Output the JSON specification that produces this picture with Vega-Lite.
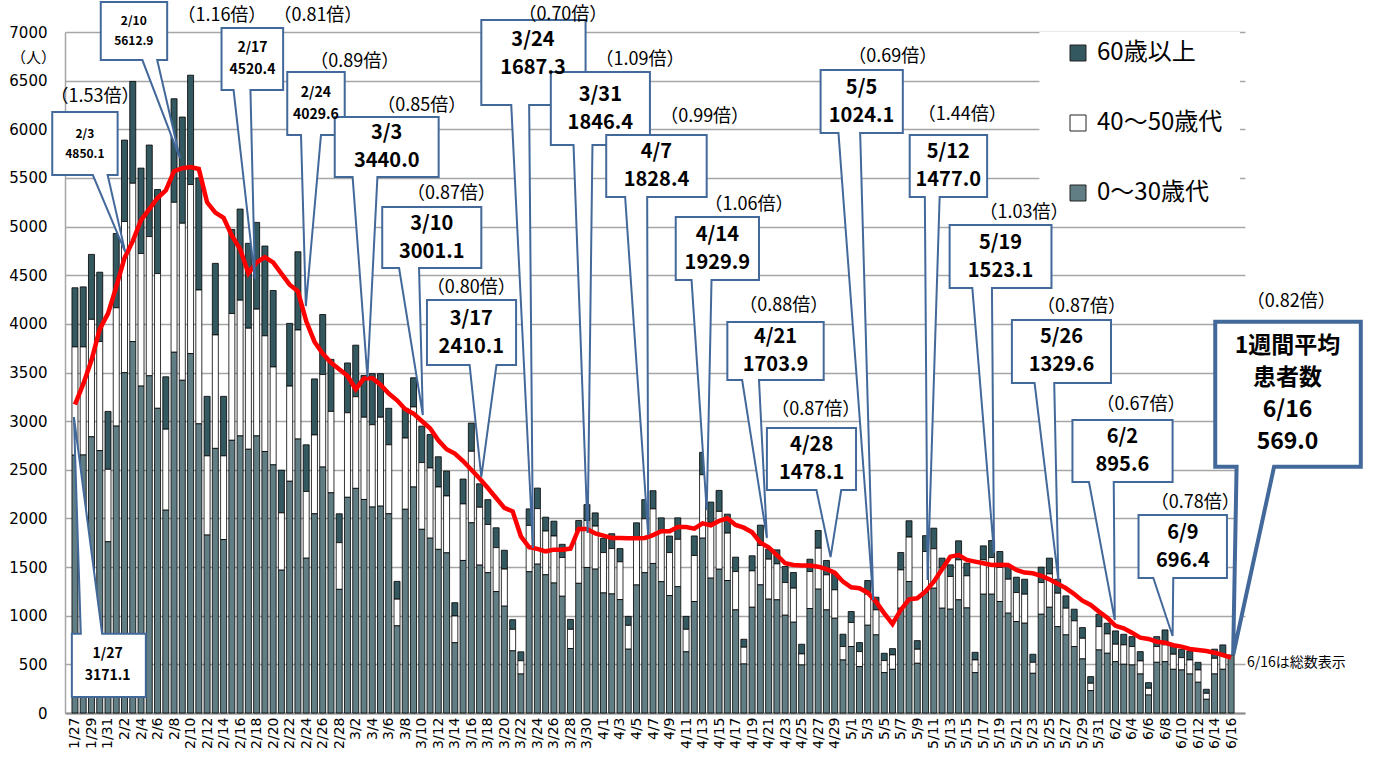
{
"$schema": "https://vega.github.io/schema/vega-lite/v6.json",
"width": 1180, "height": 681,
"autosize": {"type": "none"},
"padding": {"left": 65, "top": 32, "right": 132, "bottom": 52},
"background": "white",
"config": {"view": {"stroke": null}, "font": "DejaVu Sans"},
"datasets": {
"days": [
{"date":"2022-01-27","0〜30歳代":2650,"40〜50歳代":1113,"60歳以上":608,"avg":3171.1},
{"date":"2022-01-28","0〜30歳代":2652,"40〜50歳代":1111,"60歳以上":617,"avg":3380},
{"date":"2022-01-29","0〜30歳代":2839,"40〜50歳代":1207,"60歳以上":668,"avg":3626},
{"date":"2022-01-30","0〜30歳代":2697,"40〜50歳代":1121,"60歳以上":713,"avg":3946},
{"date":"2022-01-31","0〜30歳代":1760,"40〜50歳代":745,"60歳以上":595,"avg":4106},
{"date":"2022-02-01","0〜30歳代":2949,"40〜50歳代":1216,"60歳以上":764,"avg":4380},
{"date":"2022-02-02","0〜30歳代":3498,"40〜50歳代":1554,"60歳以上":837,"avg":4677},
{"date":"2022-02-03","0〜30歳代":3818,"40〜50歳代":1627,"60歳以上":1047,"avg":4850.1},
{"date":"2022-02-04","0〜30歳代":3360,"40〜50歳代":1363,"60歳以上":878,"avg":5066},
{"date":"2022-02-05","0〜30歳代":3466,"40〜50歳代":1431,"60歳以上":941,"avg":5180},
{"date":"2022-02-06","0〜30歳代":3132,"40〜50歳代":1385,"60歳以上":864,"avg":5294},
{"date":"2022-02-07","0〜30歳代":2085,"40〜50歳代":832,"60歳以上":539,"avg":5372},
{"date":"2022-02-08","0〜30歳代":3708,"40〜50歳代":1541,"60歳以上":1065,"avg":5569},
{"date":"2022-02-09","0〜30歳代":3420,"40〜50歳代":1614,"60歳以上":1092,"avg":5600},
{"date":"2022-02-10","0〜30歳代":3694,"40〜50歳代":1738,"60歳以上":1124,"avg":5612.9},
{"date":"2022-02-11","0〜30歳代":2972,"40〜50歳代":1376,"60歳以上":1152,"avg":5592},
{"date":"2022-02-12","0〜30歳代":1829,"40〜50歳代":814,"60歳以上":612,"avg":5249},
{"date":"2022-02-13","0〜30歳代":2720,"40〜50歳代":1166,"60歳以上":736,"avg":5143},
{"date":"2022-02-14","0〜30歳代":1783,"40〜50歳代":860,"60歳以上":612,"avg":5089},
{"date":"2022-02-15","0〜30歳代":2803,"40〜50歳代":1303,"60歳以上":864,"avg":4906},
{"date":"2022-02-16","0〜30歳代":2848,"40〜50歳代":1395,"60歳以上":937,"avg":4769},
{"date":"2022-02-17","0〜30歳代":2711,"40〜50歳代":1244,"60歳以上":873,"avg":4520.4},
{"date":"2022-02-18","0〜30歳代":2848,"40〜50歳代":1303,"60歳以上":892,"avg":4631},
{"date":"2022-02-19","0〜30歳代":2688,"40〜50歳代":1189,"60歳以上":923,"avg":4686},
{"date":"2022-02-20","0〜30歳代":2551,"40〜50歳代":1006,"60歳以上":786,"avg":4631},
{"date":"2022-02-21","0〜30歳代":1468,"40〜50歳代":589,"60歳以上":439,"avg":4517},
{"date":"2022-02-22","0〜30歳代":2382,"40〜50歳代":978,"60歳以上":645,"avg":4403},
{"date":"2022-02-23","0〜30歳代":2816,"40〜50歳代":1121,"60歳以上":804,"avg":4334},
{"date":"2022-02-24","0〜30歳代":1591,"40〜50歳代":686,"60歳以上":480,"avg":4029.6},
{"date":"2022-02-25","0〜30歳代":2048,"40〜50歳代":810,"60歳以上":576,"avg":3817},
{"date":"2022-02-26","0〜30歳代":2528,"40〜50歳代":951,"60歳以上":617,"avg":3694},
{"date":"2022-02-27","0〜30歳代":2263,"40〜50歳代":837,"60歳以上":535,"avg":3603},
{"date":"2022-02-28","0〜30歳代":1271,"40〜50歳代":480,"60歳以上":297,"avg":3534},
{"date":"2022-03-01","0〜30歳代":2217,"40〜50歳代":869,"60歳以上":512,"avg":3466},
{"date":"2022-03-02","0〜30歳代":2309,"40〜50歳代":942,"60歳以上":530,"avg":3328},
{"date":"2022-03-03","0〜30歳代":2195,"40〜50歳代":845,"60歳以上":430,"avg":3440.0},
{"date":"2022-03-04","0〜30歳代":2117,"40〜50歳代":846,"60歳以上":525,"avg":3443},
{"date":"2022-03-05","0〜30歳代":2126,"40〜50歳代":914,"60歳以上":448,"avg":3374},
{"date":"2022-03-06","0〜30歳代":2048,"40〜50歳代":709,"60歳以上":375,"avg":3283},
{"date":"2022-03-07","0〜30歳代":896,"40〜50歳代":274,"60歳以上":183,"avg":3214},
{"date":"2022-03-08","0〜30歳代":2094,"40〜50歳代":732,"60歳以上":306,"avg":3123},
{"date":"2022-03-09","0〜30歳代":2323,"40〜50歳代":823,"60歳以上":300,"avg":3077},
{"date":"2022-03-10","0〜30歳代":1888,"40〜50歳代":686,"60歳以上":375,"avg":3001.1},
{"date":"2022-03-11","0〜30歳代":1797,"40〜50歳代":722,"60歳以上":343,"avg":2926},
{"date":"2022-03-12","0〜30歳代":1682,"40〜50歳代":641,"60歳以上":311,"avg":2803},
{"date":"2022-03-13","0〜30歳代":1646,"40〜50歳代":585,"60歳以上":256,"avg":2711},
{"date":"2022-03-14","0〜30歳代":722,"40〜50歳代":275,"60歳以上":137,"avg":2666},
{"date":"2022-03-15","0〜30歳代":1568,"40〜50歳代":581,"60歳以上":256,"avg":2590},
{"date":"2022-03-16","0〜30歳代":1955,"40〜50歳代":735,"60歳以上":290,"avg":2500},
{"date":"2022-03-17","0〜30歳代":1520,"40〜50歳代":595,"60歳以上":241,"avg":2410.1},
{"date":"2022-03-18","0〜30歳代":1442,"40〜50歳代":496,"60歳以上":255,"avg":2313},
{"date":"2022-03-19","0〜30歳代":1248,"40〜50歳代":452,"60歳以上":204,"avg":2210},
{"date":"2022-03-20","0〜30歳代":1098,"40〜50歳代":381,"60歳以上":194,"avg":2108},
{"date":"2022-03-21","0〜30歳代":639,"40〜50歳代":221,"60歳以上":99,"avg":2073},
{"date":"2022-03-22","0〜30歳代":401,"40〜50歳代":136,"60歳以上":92,"avg":1816},
{"date":"2022-03-23","0〜30歳代":1452,"40〜50歳代":476,"60歳以上":170,"avg":1703},
{"date":"2022-03-24","0〜30歳代":1530,"40〜50歳代":571,"60歳以上":211,"avg":1687.3},
{"date":"2022-03-25","0〜30歳代":1421,"40〜50歳代":449,"60歳以上":143,"avg":1662},
{"date":"2022-03-26","0〜30歳代":1336,"40〜50歳代":483,"60歳以上":153,"avg":1679},
{"date":"2022-03-27","0〜30歳代":1200,"40〜50歳代":398,"60歳以上":136,"avg":1679},
{"date":"2022-03-28","0〜30歳代":663,"40〜50歳代":197,"60歳以上":102,"avg":1690},
{"date":"2022-03-29","0〜30歳代":1333,"40〜50歳代":544,"60歳以上":102,"avg":1892},
{"date":"2022-03-30","0〜30歳代":1496,"40〜50歳代":483,"60歳以上":163,"avg":1892},
{"date":"2022-03-31","0〜30歳代":1479,"40〜50歳代":442,"60歳以上":136,"avg":1846.4},
{"date":"2022-04-01","0〜30歳代":1234,"40〜50歳代":415,"60歳以上":146,"avg":1823},
{"date":"2022-04-02","0〜30歳代":1224,"40〜50歳代":466,"60歳以上":153,"avg":1799},
{"date":"2022-04-03","0〜30歳代":1166,"40〜50歳代":388,"60歳以上":136,"avg":1799},
{"date":"2022-04-04","0〜30歳代":656,"40〜50歳代":245,"60歳以上":92,"avg":1796},
{"date":"2022-04-05","0〜30歳代":1316,"40〜50歳代":486,"60歳以上":153,"avg":1796},
{"date":"2022-04-06","0〜30歳代":1442,"40〜50歳代":554,"60歳以上":197,"avg":1799},
{"date":"2022-04-07","0〜30歳代":1537,"40〜50歳代":561,"60歳以上":187,"avg":1828.4},
{"date":"2022-04-08","0〜30歳代":1350,"40〜50歳代":520,"60歳以上":136,"avg":1868},
{"date":"2022-04-09","0〜30歳代":1207,"40〜50歳代":442,"60歳以上":170,"avg":1868},
{"date":"2022-04-10","0〜30歳代":1299,"40〜50歳代":486,"60歳以上":221,"avg":1912},
{"date":"2022-04-11","0〜30歳代":629,"40〜50歳代":231,"60歳以上":133,"avg":1912},
{"date":"2022-04-12","0〜30歳代":1146,"40〜50歳代":473,"60歳以上":201,"avg":1895},
{"date":"2022-04-13","0〜30歳代":1797,"40〜50歳代":652,"60歳以上":230,"avg":1950},
{"date":"2022-04-14","0〜30歳代":1386,"40〜50歳代":573,"60歳以上":209,"avg":1929.9},
{"date":"2022-04-15","0〜30歳代":1478,"40〜50歳代":594,"60歳以上":216,"avg":1974},
{"date":"2022-04-16","0〜30歳代":1362,"40〜50歳代":487,"60歳以上":195,"avg":2001},
{"date":"2022-04-17","0〜30歳代":1060,"40〜50歳代":394,"60歳以上":148,"avg":1933},
{"date":"2022-04-18","0〜30歳代":504,"40〜50歳代":172,"60歳以上":82,"avg":1905},
{"date":"2022-04-19","0〜30歳代":1087,"40〜50歳代":374,"60歳以上":155,"avg":1857},
{"date":"2022-04-20","0〜30歳代":1317,"40〜50歳代":405,"60歳以上":209,"avg":1751},
{"date":"2022-04-21","0〜30歳代":1170,"40〜50歳代":411,"60歳以上":103,"avg":1703.9},
{"date":"2022-04-22","0〜30歳代":1163,"40〜50歳代":370,"60歳以上":144,"avg":1624},
{"date":"2022-04-23","0〜30歳代":1005,"40〜50歳代":336,"60歳以上":165,"avg":1539},
{"date":"2022-04-24","0〜30歳代":933,"40〜50歳代":350,"60歳以上":161,"avg":1522},
{"date":"2022-04-25","0〜30歳代":494,"40〜50歳代":113,"60歳以上":100,"avg":1515},
{"date":"2022-04-26","0〜30歳代":1074,"40〜50歳代":380,"60歳以上":127,"avg":1515},
{"date":"2022-04-27","0〜30歳代":1273,"40〜50歳代":421,"60歳以上":182,"avg":1504},
{"date":"2022-04-28","0〜30歳代":1060,"40〜50歳代":360,"60歳以上":148,"avg":1478.1},
{"date":"2022-04-29","0〜30歳代":974,"40〜50歳代":292,"60歳以上":171,"avg":1443},
{"date":"2022-04-30","0〜30歳代":545,"40〜50歳代":138,"60歳以上":127,"avg":1350},
{"date":"2022-05-01","0〜30歳代":683,"40〜50歳代":247,"60歳以上":113,"avg":1292},
{"date":"2022-05-02","0〜30歳代":477,"40〜50歳代":154,"60歳以上":93,"avg":1282},
{"date":"2022-05-03","0〜30歳代":902,"40〜50歳代":319,"60歳以上":141,"avg":1237},
{"date":"2022-05-04","0〜30歳代":803,"40〜50歳代":257,"60歳以上":130,"avg":1145},
{"date":"2022-05-05","0〜30歳代":415,"40〜50歳代":124,"60歳以上":75,"avg":1024.1},
{"date":"2022-05-06","0〜30歳代":449,"40〜50歳代":148,"60歳以上":65,"avg":915},
{"date":"2022-05-07","0〜30歳代":1077,"40〜50歳代":394,"60歳以上":179,"avg":1059},
{"date":"2022-05-08","0〜30歳代":1351,"40〜50歳代":457,"60歳以上":168,"avg":1169},
{"date":"2022-05-09","0〜30歳代":511,"40〜50歳代":144,"60歳以上":89,"avg":1179},
{"date":"2022-05-10","0〜30歳代":1240,"40〜50歳代":420,"60歳以上":163,"avg":1250},
{"date":"2022-05-11","0〜30歳代":1283,"40〜50歳代":405,"60歳以上":212,"avg":1350},
{"date":"2022-05-12","0〜30歳代":1077,"40〜50歳代":419,"60歳以上":96,"avg":1477.0},
{"date":"2022-05-13","0〜30歳代":1067,"40〜50歳代":336,"60歳以上":120,"avg":1607},
{"date":"2022-05-14","0〜30歳代":1163,"40〜50歳代":411,"60歳以上":196,"avg":1624},
{"date":"2022-05-15","0〜30歳代":1080,"40〜50歳代":330,"60歳以上":130,"avg":1573},
{"date":"2022-05-16","0〜30歳代":415,"40〜50歳代":130,"60歳以上":79,"avg":1556},
{"date":"2022-05-17","0〜30歳代":1221,"40〜50歳代":353,"60歳以上":144,"avg":1539},
{"date":"2022-05-18","0〜30歳代":1221,"40〜50歳代":377,"60歳以上":175,"avg":1522},
{"date":"2022-05-19","0〜30歳代":1146,"40〜50歳代":350,"60歳以上":164,"avg":1523.1},
{"date":"2022-05-20","0〜30歳代":1026,"40〜50歳代":349,"60歳以上":138,"avg":1522},
{"date":"2022-05-21","0〜30歳代":940,"40〜50歳代":298,"60歳以上":158,"avg":1470},
{"date":"2022-05-22","0〜30歳代":923,"40〜50歳代":298,"60歳以上":154,"avg":1443},
{"date":"2022-05-23","0〜30歳代":408,"40〜50歳代":113,"60歳以上":83,"avg":1436},
{"date":"2022-05-24","0〜30歳代":1015,"40〜50歳代":326,"60歳以上":158,"avg":1409},
{"date":"2022-05-25","0〜30歳代":1087,"40〜50歳代":343,"60歳以上":162,"avg":1374},
{"date":"2022-05-26","0〜30歳代":888,"40〜50歳代":343,"60歳以上":144,"avg":1329.6},
{"date":"2022-05-27","0〜30歳代":803,"40〜50歳代":274,"60歳以上":127,"avg":1282},
{"date":"2022-05-28","0〜30歳代":683,"40〜50歳代":264,"60歳以上":120,"avg":1223},
{"date":"2022-05-29","0〜30歳代":556,"40〜50歳代":212,"60歳以上":110,"avg":1155},
{"date":"2022-05-30","0〜30歳代":230,"40〜50歳代":75,"60歳以上":69,"avg":1110},
{"date":"2022-05-31","0〜30歳代":648,"40〜50歳代":240,"60歳以上":127,"avg":1042},
{"date":"2022-06-01","0〜30歳代":614,"40〜50歳代":199,"60歳以上":110,"avg":980},
{"date":"2022-06-02","0〜30歳代":528,"40〜50歳代":179,"60歳以上":137,"avg":895.6},
{"date":"2022-06-03","0〜30歳代":501,"40〜50歳代":199,"60歳以上":109,"avg":870},
{"date":"2022-06-04","0〜30歳代":494,"40〜50歳代":189,"60歳以上":102,"avg":826},
{"date":"2022-06-05","0〜30歳代":401,"40〜50歳代":134,"60歳以上":96,"avg":775},
{"date":"2022-06-06","0〜30歳代":185,"40〜50歳代":69,"60歳以上":58,"avg":761},
{"date":"2022-06-07","0〜30歳代":521,"40〜50歳代":162,"60歳以上":102,"avg":733},
{"date":"2022-06-08","0〜30歳代":528,"40〜50歳代":172,"60歳以上":154,"avg":723},
{"date":"2022-06-09","0〜30歳代":449,"40〜50歳代":155,"60歳以上":85,"avg":696.4},
{"date":"2022-06-10","0〜30歳代":442,"40〜50歳代":127,"60歳以上":86,"avg":682},
{"date":"2022-06-11","0〜30歳代":401,"40〜50歳代":144,"60歳以上":93,"avg":658},
{"date":"2022-06-12","0〜30歳代":316,"40〜50歳代":126,"60歳以上":79,"avg":648},
{"date":"2022-06-13","0〜30歳代":141,"40〜50歳代":61,"60歳以上":42,"avg":637},
{"date":"2022-06-14","0〜30歳代":401,"40〜50歳代":161,"60歳以上":94,"avg":620},
{"date":"2022-06-15","0〜30歳代":449,"40〜50歳代":148,"60歳以上":103,"avg":596},
{"date":"2022-06-16","0〜30歳代":597,"40〜50歳代":0,"60歳以上":0,"avg":569.0}
],
"callouts": [
{"id":"1/27","o":1,"x":"2022-01-26T15:00Z","v":164},{"id":"1/27","o":2,"x":"2022-01-26T15:00Z","v":814},{"id":"1/27","o":3,"x":"2022-01-27T17:00Z","v":814},{"id":"1/27","o":4,"x":"2022-01-26T21:00Z","v":3042},{"id":"1/27","o":5,"x":"2022-01-30T07:00Z","v":814},{"id":"1/27","o":6,"x":"2022-02-04T14:00Z","v":814},{"id":"1/27","o":7,"x":"2022-02-04T14:00Z","v":164},
{"id":"2/3","o":1,"x":"2022-01-24T06:00Z","v":6177},{"id":"2/3","o":2,"x":"2022-02-01T04:00Z","v":6177},{"id":"2/3","o":3,"x":"2022-02-01T04:00Z","v":5530},{"id":"2/3","o":4,"x":"2022-01-30T23:00Z","v":5530},{"id":"2/3","o":5,"x":"2022-02-02T02:00Z","v":4740},{"id":"2/3","o":6,"x":"2022-01-29T04:00Z","v":5530},{"id":"2/3","o":7,"x":"2022-01-24T06:00Z","v":5530},
{"id":"2/10","o":1,"x":"2022-01-30T03:00Z","v":7308},{"id":"2/10","o":2,"x":"2022-02-07T04:00Z","v":7308},{"id":"2/10","o":3,"x":"2022-02-07T04:00Z","v":6712},{"id":"2/10","o":4,"x":"2022-02-05T23:00Z","v":6712},{"id":"2/10","o":5,"x":"2022-02-08T17:00Z","v":5704},{"id":"2/10","o":6,"x":"2022-02-04T04:00Z","v":6712},{"id":"2/10","o":7,"x":"2022-01-30T03:00Z","v":6712},
{"id":"2/17","o":1,"x":"2022-02-13T18:00Z","v":7040},{"id":"2/17","o":2,"x":"2022-02-21T05:00Z","v":7040},{"id":"2/17","o":3,"x":"2022-02-21T05:00Z","v":6403},{"id":"2/17","o":4,"x":"2022-02-17T06:00Z","v":6403},{"id":"2/17","o":5,"x":"2022-02-17T19:00Z","v":4461},{"id":"2/17","o":6,"x":"2022-02-15T05:00Z","v":6403},{"id":"2/17","o":7,"x":"2022-02-13T18:00Z","v":6403},
{"id":"2/24","o":1,"x":"2022-02-21T17:00Z","v":6588},{"id":"2/24","o":2,"x":"2022-02-28T16:00Z","v":6588},{"id":"2/24","o":3,"x":"2022-02-28T16:00Z","v":5941},{"id":"2/24","o":4,"x":"2022-02-25T19:00Z","v":5941},{"id":"2/24","o":5,"x":"2022-02-23T23:00Z","v":4183},{"id":"2/24","o":6,"x":"2022-02-23T09:00Z","v":5941},{"id":"2/24","o":7,"x":"2022-02-21T17:00Z","v":5941},
{"id":"3/3","o":1,"x":"2022-02-27T11:00Z","v":6126},{"id":"3/3","o":2,"x":"2022-03-12T01:00Z","v":6126},{"id":"3/3","o":3,"x":"2022-03-12T01:00Z","v":5509},{"id":"3/3","o":4,"x":"2022-03-04T15:00Z","v":5509},{"id":"3/3","o":5,"x":"2022-03-03T10:00Z","v":3453},{"id":"3/3","o":6,"x":"2022-03-01T15:00Z","v":5509},{"id":"3/3","o":7,"x":"2022-02-27T11:00Z","v":5509},
{"id":"3/10","o":1,"x":"2022-03-05T05:00Z","v":5201},{"id":"3/10","o":2,"x":"2022-03-17T05:00Z","v":5201},{"id":"3/10","o":3,"x":"2022-03-17T05:00Z","v":4574},{"id":"3/10","o":4,"x":"2022-03-09T16:00Z","v":4574},{"id":"3/10","o":5,"x":"2022-03-10T03:00Z","v":3063},{"id":"3/10","o":6,"x":"2022-03-07T06:00Z","v":4574},{"id":"3/10","o":7,"x":"2022-03-05T05:00Z","v":4574},
{"id":"3/17","o":1,"x":"2022-03-10T15:00Z","v":4245},{"id":"3/17","o":2,"x":"2022-03-21T10:00Z","v":4245},{"id":"3/17","o":3,"x":"2022-03-21T10:00Z","v":3577},{"id":"3/17","o":4,"x":"2022-03-19T01:00Z","v":3577},{"id":"3/17","o":5,"x":"2022-03-17T05:00Z","v":2426},{"id":"3/17","o":6,"x":"2022-03-15T19:00Z","v":3577},{"id":"3/17","o":7,"x":"2022-03-10T15:00Z","v":3577},
{"id":"3/24","o":1,"x":"2022-03-17T05:00Z","v":7123},{"id":"3/24","o":2,"x":"2022-03-29T20:00Z","v":7123},{"id":"3/24","o":3,"x":"2022-03-29T20:00Z","v":6249},{"id":"3/24","o":4,"x":"2022-03-23T00:00Z","v":6249},{"id":"3/24","o":5,"x":"2022-03-23T11:00Z","v":1696},{"id":"3/24","o":6,"x":"2022-03-20T20:00Z","v":6249},{"id":"3/24","o":7,"x":"2022-03-17T05:00Z","v":6249},
{"id":"3/31","o":1,"x":"2022-03-25T15:00Z","v":6588},{"id":"3/31","o":2,"x":"2022-04-06T15:00Z","v":6588},{"id":"3/31","o":3,"x":"2022-04-06T15:00Z","v":5838},{"id":"3/31","o":4,"x":"2022-03-30T16:00Z","v":5838},{"id":"3/31","o":5,"x":"2022-03-30T02:00Z","v":1850},{"id":"3/31","o":6,"x":"2022-03-28T09:00Z","v":5838},{"id":"3/31","o":7,"x":"2022-03-25T15:00Z","v":5838},
{"id":"4/7","o":1,"x":"2022-04-01T08:00Z","v":5941},{"id":"4/7","o":2,"x":"2022-04-13T12:00Z","v":5941},{"id":"4/7","o":3,"x":"2022-04-13T12:00Z","v":5303},{"id":"4/7","o":4,"x":"2022-04-06T07:00Z","v":5303},{"id":"4/7","o":5,"x":"2022-04-06T10:00Z","v":1829},{"id":"4/7","o":6,"x":"2022-04-03T15:00Z","v":5303},{"id":"4/7","o":7,"x":"2022-04-01T08:00Z","v":5303},
{"id":"4/14","o":1,"x":"2022-04-09T18:00Z","v":5098},{"id":"4/14","o":2,"x":"2022-04-19T20:00Z","v":5098},{"id":"4/14","o":3,"x":"2022-04-19T20:00Z","v":4450},{"id":"4/14","o":4,"x":"2022-04-14T02:00Z","v":4450},{"id":"4/14","o":5,"x":"2022-04-13T12:00Z","v":2086},{"id":"4/14","o":6,"x":"2022-04-11T16:00Z","v":4450},{"id":"4/14","o":7,"x":"2022-04-09T18:00Z","v":4450},
{"id":"4/21","o":1,"x":"2022-04-16T00:00Z","v":4019},{"id":"4/21","o":2,"x":"2022-04-27T16:00Z","v":4019},{"id":"4/21","o":3,"x":"2022-04-27T16:00Z","v":3423},{"id":"4/21","o":4,"x":"2022-04-19T20:00Z","v":3423},{"id":"4/21","o":5,"x":"2022-04-20T19:00Z","v":1799},{"id":"4/21","o":6,"x":"2022-04-17T19:00Z","v":3423},{"id":"4/21","o":7,"x":"2022-04-16T00:00Z","v":3423},
{"id":"4/28","o":1,"x":"2022-04-20T19:00Z","v":2929},{"id":"4/28","o":2,"x":"2022-05-01T14:00Z","v":2929},{"id":"4/28","o":3,"x":"2022-05-01T14:00Z","v":2292},{"id":"4/28","o":4,"x":"2022-04-29T19:00Z","v":2292},{"id":"4/28","o":5,"x":"2022-04-28T12:00Z","v":1603},{"id":"4/28","o":6,"x":"2022-04-26T19:00Z","v":2292},{"id":"4/28","o":7,"x":"2022-04-20T19:00Z","v":2292},
{"id":"5/5","o":1,"x":"2022-04-27T07:00Z","v":6609},{"id":"5/5","o":2,"x":"2022-05-07T06:00Z","v":6609},{"id":"5/5","o":3,"x":"2022-05-07T06:00Z","v":5961},{"id":"5/5","o":4,"x":"2022-05-02T02:00Z","v":5961},{"id":"5/5","o":5,"x":"2022-05-03T16:00Z","v":1161},{"id":"5/5","o":6,"x":"2022-04-29T11:00Z","v":5961},{"id":"5/5","o":7,"x":"2022-04-27T07:00Z","v":5961},
{"id":"5/12","o":1,"x":"2022-05-08T02:00Z","v":5941},{"id":"5/12","o":2,"x":"2022-05-17T11:00Z","v":5941},{"id":"5/12","o":3,"x":"2022-05-17T11:00Z","v":5303},{"id":"5/12","o":4,"x":"2022-05-11T17:00Z","v":5303},{"id":"5/12","o":5,"x":"2022-05-10T06:00Z","v":1367},{"id":"5/12","o":6,"x":"2022-05-09T22:00Z","v":5303},{"id":"5/12","o":7,"x":"2022-05-08T02:00Z","v":5303},
{"id":"5/19","o":1,"x":"2022-05-12T22:00Z","v":5016},{"id":"5/19","o":2,"x":"2022-05-25T06:00Z","v":5016},{"id":"5/19","o":3,"x":"2022-05-25T06:00Z","v":4368},{"id":"5/19","o":4,"x":"2022-05-18T01:00Z","v":4368},{"id":"5/19","o":5,"x":"2022-05-18T07:00Z","v":1644},{"id":"5/19","o":6,"x":"2022-05-15T16:00Z","v":4368},{"id":"5/19","o":7,"x":"2022-05-12T22:00Z","v":4368},
{"id":"5/26","o":1,"x":"2022-05-20T11:00Z","v":4039},{"id":"5/26","o":2,"x":"2022-06-01T11:00Z","v":4039},{"id":"5/26","o":3,"x":"2022-06-01T11:00Z","v":3392},{"id":"5/26","o":4,"x":"2022-05-25T14:00Z","v":3392},{"id":"5/26","o":5,"x":"2022-05-26T02:00Z","v":1367},{"id":"5/26","o":6,"x":"2022-05-23T05:00Z","v":3392},{"id":"5/26","o":7,"x":"2022-05-20T11:00Z","v":3392},
{"id":"6/2","o":1,"x":"2022-05-27T19:00Z","v":3011},{"id":"6/2","o":2,"x":"2022-06-08T22:00Z","v":3011},{"id":"6/2","o":3,"x":"2022-06-08T22:00Z","v":2374},{"id":"6/2","o":4,"x":"2022-06-01T19:00Z","v":2374},{"id":"6/2","o":5,"x":"2022-06-01T22:00Z","v":956},{"id":"6/2","o":6,"x":"2022-05-29T19:00Z","v":2374},{"id":"6/2","o":7,"x":"2022-05-27T19:00Z","v":2374},
{"id":"6/9","o":1,"x":"2022-06-04T19:00Z","v":2035},{"id":"6/9","o":2,"x":"2022-06-15T12:00Z","v":2035},{"id":"6/9","o":3,"x":"2022-06-15T12:00Z","v":1388},{"id":"6/9","o":4,"x":"2022-06-09T00:00Z","v":1388},{"id":"6/9","o":5,"x":"2022-06-08T22:00Z","v":791},{"id":"6/9","o":6,"x":"2022-06-06T14:00Z","v":1388},{"id":"6/9","o":7,"x":"2022-06-04T19:00Z","v":1388},
{"id":"6/16","o":1,"x":"2022-06-14T02:00Z","v":4022},{"id":"6/16","o":2,"x":"2022-07-01T17:00Z","v":4022},{"id":"6/16","o":3,"x":"2022-07-01T17:00Z","v":2532},{"id":"6/16","o":4,"x":"2022-06-21T05:00Z","v":2532},{"id":"6/16","o":5,"x":"2022-06-16T06:00Z","v":596},{"id":"6/16","o":6,"x":"2022-06-16T16:00Z","v":2532},{"id":"6/16","o":7,"x":"2022-06-14T02:00Z","v":2532}
],
"ctext": [
{"id":"1/27","x":"2022-01-30T23:00Z","v":489,"t":"1/27\n3171.1"},
{"id":"2/3","x":"2022-01-28T05:00Z","v":5853,"t":"2/3\n4850.1"},
{"id":"2/10","x":"2022-02-03T03:00Z","v":7010,"t":"2/10\n5612.9"},
{"id":"2/17","x":"2022-02-17T12:00Z","v":6721,"t":"2/17\n4520.4"},
{"id":"2/24","x":"2022-02-25T04:00Z","v":6264,"t":"2/24\n4029.6"},
{"id":"3/3","x":"2022-03-05T18:00Z","v":5817,"t":"3/3\n3440.0"},
{"id":"3/10","x":"2022-03-11T05:00Z","v":4887,"t":"3/10\n3001.1"},
{"id":"3/17","x":"2022-03-16T00:00Z","v":3911,"t":"3/17\n2410.1"},
{"id":"3/24","x":"2022-03-23T11:00Z","v":6770,"t":"3/24\n1687.3"},
{"id":"3/31","x":"2022-03-31T15:00Z","v":6213,"t":"3/31\n1846.4"},
{"id":"4/7","x":"2022-04-07T10:00Z","v":5622,"t":"4/7\n1828.4"},
{"id":"4/14","x":"2022-04-14T19:00Z","v":4774,"t":"4/14\n1929.9"},
{"id":"4/21","x":"2022-04-21T20:00Z","v":3721,"t":"4/21\n1703.9"},
{"id":"4/28","x":"2022-04-26T05:00Z","v":2610,"t":"4/28\n1478.1"},
{"id":"5/5","x":"2022-05-02T06:00Z","v":6285,"t":"5/5\n1024.1"},
{"id":"5/12","x":"2022-05-12T18:00Z","v":5622,"t":"5/12\n1477.0"},
{"id":"5/19","x":"2022-05-19T02:00Z","v":4692,"t":"5/19\n1523.1"},
{"id":"5/26","x":"2022-05-26T11:00Z","v":3716,"t":"5/26\n1329.6"},
{"id":"6/2","x":"2022-06-02T20:00Z","v":2692,"t":"6/2\n895.6"},
{"id":"6/9","x":"2022-06-10T04:00Z","v":1711,"t":"6/9\n696.4"},
{"id":"6/16","x":"2022-06-22T20:00Z","v":3277,"t":"1週間平均\n患者数\n6/16\n569.0"}
],
"ratios": [
{"x":"2022-01-29T10:00Z","v":6331,"t":"（1.53倍）"},
{"x":"2022-02-13T19:00Z","v":7164,"t":"（1.16倍）"},
{"x":"2022-02-25T10:00Z","v":7164,"t":"（0.81倍）"},
{"x":"2022-03-01T21:00Z","v":6691,"t":"（0.89倍）"},
{"x":"2022-03-10T00:00Z","v":6239,"t":"（0.85倍）"},
{"x":"2022-03-13T14:00Z","v":5334,"t":"（0.87倍）"},
{"x":"2022-03-16T00:00Z","v":4368,"t":"（0.80倍）"},
{"x":"2022-03-27T02:00Z","v":7170,"t":"（0.70倍）"},
{"x":"2022-04-05T10:00Z","v":6712,"t":"（1.09倍）"},
{"x":"2022-04-13T06:00Z","v":6126,"t":"（0.99倍）"},
{"x":"2022-04-18T15:00Z","v":5221,"t":"（1.06倍）"},
{"x":"2022-04-22T20:00Z","v":4183,"t":"（0.88倍）"},
{"x":"2022-04-26T17:00Z","v":3114,"t":"（0.87倍）"},
{"x":"2022-05-06T01:00Z","v":6742,"t":"（0.69倍）"},
{"x":"2022-05-14T11:00Z","v":6146,"t":"（1.44倍）"},
{"x":"2022-05-21T22:00Z","v":5139,"t":"（1.03倍）"},
{"x":"2022-05-28T21:00Z","v":4173,"t":"（0.87倍）"},
{"x":"2022-06-05T02:00Z","v":3166,"t":"（0.67倍）"},
{"x":"2022-06-11T16:00Z","v":2158,"t":"（0.78倍）"},
{"x":"2022-06-23T07:00Z","v":4224,"t":"（0.82倍）"}
],
"notes": [
{"x":"2022-06-17T22:00Z","v":514,"t":"6/16は総数表示"}
],
"panel": [
{"x1":"2022-05-23T19:00Z","x2":"2022-06-17T02:00Z","v1":5200,"v2":7000}
]
},
"layer": [
{
"data": {"name": "days"},
"transform": [
{"fold": ["60歳以上", "40〜50歳代", "0〜30歳代"], "as": ["age", "n"]},
{"filter": "datum.n > 0"}
],
"mark": {"type": "bar", "width": 6, "stroke": "black", "strokeWidth": 0.8},
"encoding": {
"x": {"field": "date", "type": "temporal",
"scale": {"type": "utc", "domain": [1643189760000, 1655430912000]},
"axis": {"title": null, "grid": false, "ticks": false,
"tickCount": {"interval": "day", "step": 1},
"labelExpr": "round((datum.value - 1643241600000) / 86400000) % 2 == 0 ? utcFormat(datum.value, '%-m/%-d') : ''",
"labelAngle": -90, "labelFont": "DejaVu Sans", "labelFontSize": 14, "labelColor": "#000",
"labelOverlap": false, "labelFlush": false, "labelPadding": 4, "labelBound": false,
"domainColor": "#8C8C8C", "domainWidth": 2}},
"y": {"field": "n", "type": "quantitative", "stack": "zero",
"scale": {"domain": [0, 7000]},
"axis": {"title": "（人）", "titleAngle": 0, "titleX": -32, "titleY": 25, "titleAlign": "center", "titleBaseline": "middle",
"titleFont": "Noto Sans CJK JP", "titleFontSize": 15, "titleFontWeight": "normal", "titleColor": "#000",
"values": [0,500,1000,1500,2000,2500,3000,3500,4000,4500,5000,5500,6000,6500,7000], "format": "d",
"labelFont": "DejaVu Sans", "labelFontSize": 15, "labelColor": "#000", "labelPadding": 18, "ticks": false,
"grid": true, "gridColor": "#A6A6A6", "gridWidth": 1.5, "domainColor": "#A6A6A6", "domainWidth": 1.5, "labelFlush": false}},
"color": {"field": "age", "type": "nominal",
"scale": {"domain": ["60歳以上", "40〜50歳代", "0〜30歳代"], "range": ["#34585F", "#FFFFFF", "#627E85"]},
"legend": {"orient": "none", "legendX": 1001, "legendY": 9, "title": null,
"labelFont": "Noto Sans CJK JP", "labelFontSize": 24, "labelColor": "#000",
"symbolType": "square", "symbolSize": 256, "symbolStrokeColor": "#222", "symbolStrokeWidth": 1,
"rowPadding": 46, "padding": 0, "labelOffset": 7}},
"order": {"field": "age", "type": "nominal", "sort": "ascending"}
}
},
{
"data": {"name": "days"},
"mark": {"type": "line", "color": "#FF0000", "strokeWidth": 4.5},
"encoding": {
"x": {"field": "date", "type": "temporal", "scale": {"type": "utc", "domain": [1643189760000, 1655430912000]}},
"y": {"field": "avg", "type": "quantitative", "scale": {"domain": [0, 7000]}}
}
},
{
"data": {"name": "panel"},
"mark": {"type": "rect", "fill": "white"},
"encoding": {
"x": {"field": "x1", "type": "temporal", "scale": {"type": "utc", "domain": [1643189760000, 1655430912000]}},
"x2": {"field": "x2"},
"y": {"field": "v1", "type": "quantitative", "scale": {"domain": [0, 7000]}},
"y2": {"field": "v2"}
}
},
{
"data": {"name": "callouts"},
"transform": [{"filter": "datum.id != '6/16'"}],
"mark": {"type": "line", "interpolate": "linear-closed", "fill": "white", "stroke": "#43689A", "strokeWidth": 2, "strokeJoin": "miter"},
"encoding": {
"x": {"field": "x", "type": "temporal", "scale": {"type": "utc", "domain": [1643189760000, 1655430912000]}},
"y": {"field": "v", "type": "quantitative", "scale": {"domain": [0, 7000]}},
"detail": {"field": "id"},
"order": {"field": "o", "type": "quantitative"}
}
},
{
"data": {"name": "callouts"},
"transform": [{"filter": "datum.id == '6/16'"}],
"mark": {"type": "line", "interpolate": "linear-closed", "fill": "white", "stroke": "#43689A", "strokeWidth": 4, "strokeJoin": "miter"},
"encoding": {
"x": {"field": "x", "type": "temporal", "scale": {"type": "utc", "domain": [1643189760000, 1655430912000]}},
"y": {"field": "v", "type": "quantitative", "scale": {"domain": [0, 7000]}},
"detail": {"field": "id"},
"order": {"field": "o", "type": "quantitative"}
}
},
{
"data": {"name": "ctext"},
"transform": [{"filter": {"field": "id", "oneOf": ["2/3", "2/10"]}}],
"mark": {"type": "text", "font": "Noto Sans CJK JP", "fontWeight": "bold", "fontSize": 12, "lineBreak": "\n", "lineHeight": 20, "align": "center", "baseline": "middle", "dy": -10, "color": "#000"},
"encoding": {
"x": {"field": "x", "type": "temporal", "scale": {"type": "utc", "domain": [1643189760000, 1655430912000]}},
"y": {"field": "v", "type": "quantitative", "scale": {"domain": [0, 7000]}},
"text": {"field": "t"}
}
},
{
"data": {"name": "ctext"},
"transform": [{"filter": {"field": "id", "oneOf": ["1/27", "2/17", "2/24"]}}],
"mark": {"type": "text", "font": "Noto Sans CJK JP", "fontWeight": "bold", "fontSize": 14, "lineBreak": "\n", "lineHeight": 22, "align": "center", "baseline": "middle", "dy": -11, "color": "#000"},
"encoding": {
"x": {"field": "x", "type": "temporal", "scale": {"type": "utc", "domain": [1643189760000, 1655430912000]}},
"y": {"field": "v", "type": "quantitative", "scale": {"domain": [0, 7000]}},
"text": {"field": "t"}
}
},
{
"data": {"name": "ctext"},
"transform": [{"filter": {"not": {"field": "id", "oneOf": ["1/27", "2/3", "2/10", "2/17", "2/24", "6/16"]}}}],
"mark": {"type": "text", "font": "Noto Sans CJK JP", "fontWeight": "bold", "fontSize": 20, "lineBreak": "\n", "lineHeight": 28, "align": "center", "baseline": "middle", "dy": -14, "color": "#000"},
"encoding": {
"x": {"field": "x", "type": "temporal", "scale": {"type": "utc", "domain": [1643189760000, 1655430912000]}},
"y": {"field": "v", "type": "quantitative", "scale": {"domain": [0, 7000]}},
"text": {"field": "t"}
}
},
{
"data": {"name": "ctext"},
"transform": [{"filter": "datum.id == '6/16'"}],
"mark": {"type": "text", "font": "Noto Sans CJK JP", "fontWeight": "bold", "fontSize": 23, "lineBreak": "\n", "lineHeight": 32, "align": "center", "baseline": "middle", "dy": -48, "color": "#000"},
"encoding": {
"x": {"field": "x", "type": "temporal", "scale": {"type": "utc", "domain": [1643189760000, 1655430912000]}},
"y": {"field": "v", "type": "quantitative", "scale": {"domain": [0, 7000]}},
"text": {"field": "t"}
}
},
{
"data": {"name": "ratios"},
"mark": {"type": "text", "font": "Noto Sans CJK JP", "fontSize": 18, "align": "center", "baseline": "middle", "color": "#000"},
"encoding": {
"x": {"field": "x", "type": "temporal", "scale": {"type": "utc", "domain": [1643189760000, 1655430912000]}},
"y": {"field": "v", "type": "quantitative", "scale": {"domain": [0, 7000]}},
"text": {"field": "t"}
}
},
{
"data": {"name": "notes"},
"mark": {"type": "text", "font": "Noto Sans CJK JP", "fontSize": 14, "align": "left", "baseline": "middle", "color": "#000"},
"encoding": {
"x": {"field": "x", "type": "temporal", "scale": {"type": "utc", "domain": [1643189760000, 1655430912000]}},
"y": {"field": "v", "type": "quantitative", "scale": {"domain": [0, 7000]}},
"text": {"field": "t"}
}
}
]
}
